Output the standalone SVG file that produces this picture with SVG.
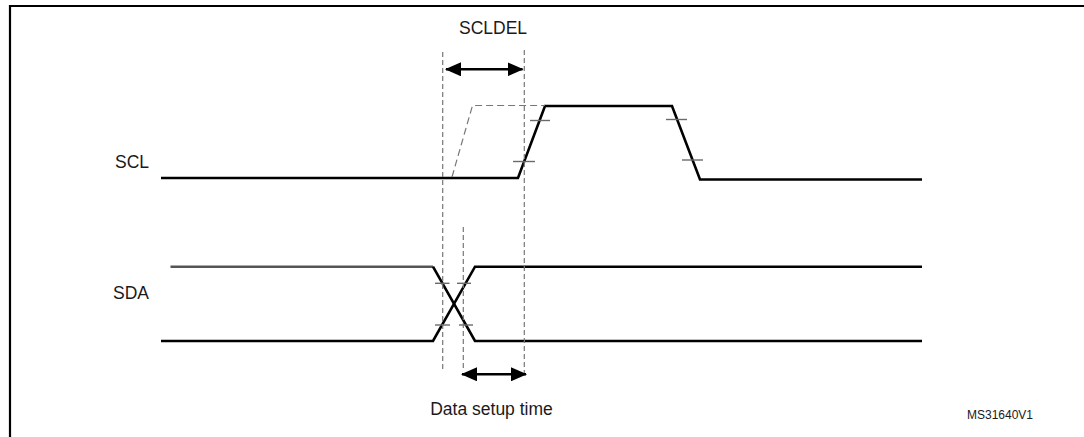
<svg xmlns="http://www.w3.org/2000/svg" width="1084" height="437" viewBox="0 0 1084 437">
<defs>
<marker id="ah" viewBox="0 0 16 14" refX="15" refY="7" markerWidth="16" markerHeight="14" markerUnits="userSpaceOnUse" orient="auto-start-reverse">
<path d="M0,0 L16,7 L0,14 Z" fill="#000"/>
</marker>
<style>
.lbl{font-family:"Liberation Sans",Arial,sans-serif;fill:#1a1a1a;font-size:17.5px}
.sig{fill:none;stroke:#000;stroke-width:2.6;stroke-linejoin:miter}
.tick{stroke:#6a6a6a;stroke-width:1.4}
.vd{stroke:#777;stroke-width:1.2;stroke-dasharray:5,3;fill:none}
.arr{stroke:#000;stroke-width:2.4;fill:none}
</style>
</defs>
<rect width="1084" height="437" fill="#fff"/>
<path d="M10,437 V6 H1084" fill="none" stroke="#000" stroke-width="2.2"/>

<g id="labels">
<text class="lbl" x="115" y="168">SCL</text>
<text class="lbl" x="113" y="299">SDA</text>
<text class="lbl" x="493" y="34" text-anchor="middle">SCLDEL</text>
<text class="lbl" x="491.5" y="415" text-anchor="middle">Data setup time</text>
<text class="lbl" x="967" y="419" style="font-size:12px">MS31640V1</text>
</g>

<g id="scl">
<path class="sig" d="M161,178 H518 L545,106 H672 L700,179.5 H922"/>
<path d="M452,177 L472.5,105.5 H545" fill="none" stroke="#777" stroke-width="1.2" stroke-dasharray="7,4"/>
<line class="tick" x1="530" y1="120.5" x2="550" y2="120.5"/>
<line class="tick" x1="513" y1="161.5" x2="535" y2="161.5"/>
<line class="tick" x1="666" y1="119.5" x2="687" y2="119.5"/>
<line class="tick" x1="682" y1="160" x2="703" y2="160"/>
</g>

<g id="sda">
<path d="M170.5,266.7 H433" fill="none" stroke="#555" stroke-width="2.6"/>
<path class="sig" d="M433,266.7 L475,341 H922"/>
<path class="sig" d="M161,341 H433 L475,266.7 H922"/>
<line class="tick" x1="435" y1="283.3" x2="449.5" y2="283.3"/>
<line class="tick" x1="457" y1="283.3" x2="471" y2="283.3"/>
<line class="tick" x1="435" y1="325" x2="450" y2="325"/>
<line class="tick" x1="459" y1="325" x2="473" y2="325"/>
</g>

<g id="connectors">
<line class="vd" x1="442.7" y1="52" x2="442.7" y2="370"/>
<line class="vd" x1="463.3" y1="227" x2="463.3" y2="368"/>
<line class="vd" x1="524.3" y1="50" x2="524.3" y2="376"/>
<line class="arr" x1="446" y1="69.3" x2="522.5" y2="69.3" marker-start="url(#ah)" marker-end="url(#ah)"/>
<line class="arr" x1="462" y1="374.3" x2="526" y2="374.3" marker-start="url(#ah)" marker-end="url(#ah)"/>
</g>
</svg>
